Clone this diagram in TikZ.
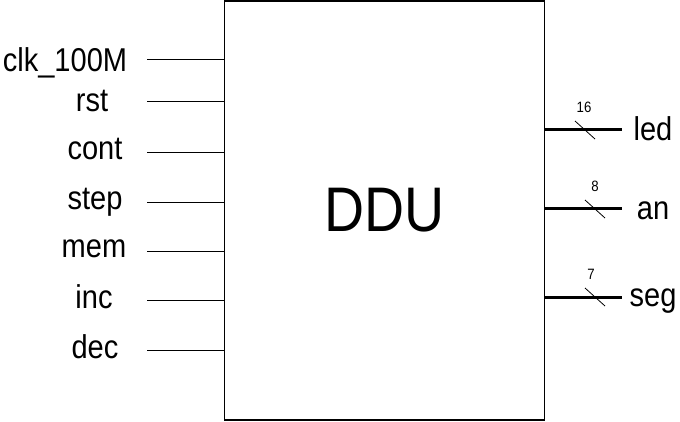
\documentclass[tikz,border=0pt]{standalone}
\usepackage{fontspec}
\setmainfont{Liberation Sans}[FakeStretch=0.88]

\begin{document}
\begin{tikzpicture}[x=1pt,y=-1pt,line width=1pt]
\useasboundingbox (0,0) rectangle (680,422);
% 模块主体
\node[draw,line width=1.5pt,minimum width=320pt,minimum height=419pt,inner sep=0pt,
  font=\fontsize{63}{63}\selectfont] (ddu) at (384.5,210.5) {DDU};
% 输入端口（单线）
\foreach \nm/\txt/\lx/\py/\by in {clk/clk\_100M/65/60/72, rst/rst/92/102/112,
  cont/cont/95/153/160, step/step/95/203/210, mem/mem/94/251/258,
  inc/inc/94/300/308, dec/dec/95/350/358}{
  \node[font=\fontsize{33}{33}\selectfont,anchor=base] (\nm) at (\lx,\by) {\txt};
  \coordinate (\nm-in) at (147,\py);
  \draw (\nm-in) -- (\nm-in -| ddu.west);
}
% 输出端口（总线，带位宽斜线）
\foreach \nm/\w/\py/\by/\sx/\wx in {led/16/130/141/585/584, an/8/209/219/595/595,
  seg/7/297/306/595/591}{
  \coordinate (\nm-out) at (622,\py);
  \draw[line width=3pt] (ddu.east |- \nm-out) -- (\nm-out);
  \node[font=\fontsize{33}{33}\selectfont,anchor=base] (\nm) at (653,\by) {\nm};
  \coordinate (\nm-bus) at (\sx,\py);
  \draw[line width=0.8pt] ([shift={(-10,-9)}]\nm-bus) -- ([shift={(10,9)}]\nm-bus);
  \node[font=\fontsize{15}{15}\selectfont] (\nm-w) at ([shift={(0,-23)}]\wx,\py) {\w};
}
\end{tikzpicture}
\end{document}
